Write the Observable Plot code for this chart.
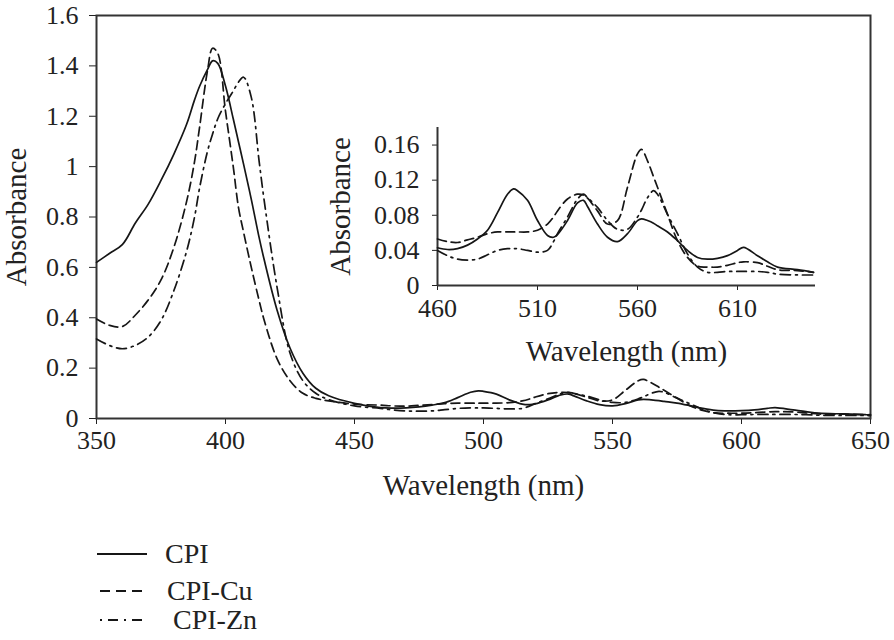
<!DOCTYPE html>
<html>
<head>
<meta charset="utf-8">
<script src="https://cdn.jsdelivr.net/npm/d3@7"></script>
<script src="https://cdn.jsdelivr.net/npm/@observablehq/plot@0.6"></script>
<style>
  html, body { margin: 0; padding: 0; background: #fff; }
  #wrap { position: relative; width: 894px; height: 640px; overflow: hidden; font-family: 'Liberation Serif', 'Times New Roman', serif; color: #222; }
  #main { position: absolute; left: 0; top: 0; }
  #inset { position: absolute; left: 310px; top: 110px; }
  .leg { position: absolute; left: 0; height: 34px; display: flex; align-items: center; font-size: 28px; }
  .leg svg { position: absolute; left: 95px; top: 0; }
  .leg span { position: absolute; white-space: nowrap; }
</style>
</head>
<body>
<div id="wrap">
  <div id="main"></div>
  <div id="inset"></div>
  <div id="legend"></div>
</div>
<script>
// ---- data ----
const wavelength = [350,355,360,365,370,375,380,385,388,390,393,395,397,400,403,405,407,410,413,415,420,425,430,435,440,450,
  460,465,470,475,480,485,490,495,498,500,505,510,515,518,520,525,530,533,535,540,545,550,555,560,562,565,568,570,575,580,585,
  590,595,600,605,610,613,620,625,630,640,648,650];
const cpi = [0.62,0.655,0.69,0.775,0.85,0.945,1.05,1.17,1.265,1.32,1.385,1.42,1.41,1.32,1.19,1.10,1.01,0.87,0.72,0.63,0.43,0.28,0.18,0.12,0.09,0.06,
  0.043,0.041,0.042,0.046,0.053,0.063,0.083,0.104,0.110,0.108,0.097,0.074,0.057,0.055,0.058,0.074,0.094,0.097,0.090,0.070,0.055,0.050,0.059,0.074,0.076,0.074,0.071,0.068,0.061,0.051,0.040,
  0.032,0.030,0.031,0.034,0.040,0.0435,0.034,0.027,0.021,0.018,0.015,0.014];
const cpiCu = [0.395,0.37,0.365,0.41,0.47,0.55,0.68,0.865,1.02,1.16,1.38,1.47,1.45,1.22,1.00,0.84,0.74,0.60,0.47,0.39,0.237,0.15,0.10,0.08,0.07,0.057,
  0.053,0.050,0.049,0.052,0.055,0.059,0.061,0.061,0.061,0.061,0.061,0.063,0.070,0.078,0.085,0.0985,0.104,0.103,0.0995,0.085,0.070,0.074,0.112,0.150,0.155,0.142,0.124,0.112,0.081,0.051,0.032,
  0.022,0.021,0.021,0.023,0.026,0.027,0.026,0.022,0.018,0.017,0.015,0.015];
const cpiZn = [0.316,0.29,0.277,0.29,0.323,0.389,0.508,0.667,0.80,0.918,1.06,1.13,1.19,1.25,1.30,1.335,1.355,1.275,1.024,0.865,0.52,0.26,0.15,0.10,0.075,0.05,
  0.040,0.034,0.030,0.029,0.030,0.035,0.040,0.042,0.042,0.042,0.040,0.038,0.040,0.050,0.059,0.078,0.0985,0.104,0.100,0.089,0.074,0.064,0.064,0.078,0.086,0.100,0.108,0.104,0.081,0.059,0.036,
  0.021,0.015,0.015,0.016,0.016,0.016,0.016,0.015,0.013,0.012,0.012,0.011];
const seriesNames = ["CPI", "CPI-Cu", "CPI-Zn"];
const mainXTicks = [350, 400, 450, 500, 550, 600, 650];
const mainYTicks = [0, 0.2, 0.4, 0.6, 0.8, 1, 1.2, 1.4, 1.6];
const insetXTicks = [460, 510, 560, 610];
const insetYTicks = [0, 0.04, 0.08, 0.12, 0.16];
const xLabel = "Wavelength (nm)";
const yLabel = "Absorbance";

// ---- build table ----
const seriesValues = [cpi, cpiCu, cpiZn];
const rows = seriesNames.flatMap((s, i) => wavelength.map((w, j) => ({series: s, w, a: seriesValues[i][j]})));
const dashes = {"CPI": null, "CPI-Cu": "9,5", "CPI-Zn": "10,5,2,5"};
const ink = "#161616";
const fmt = d => String(+d.toFixed(2));
const font = "'Liberation Serif', 'Times New Roman', serif";

function lines(data) {
  return seriesNames.map(s => Plot.line(data.filter(d => d.series === s), {
    x: "w", y: "a", stroke: ink, strokeWidth: 1.7,
    strokeDasharray: dashes[s] || undefined, curve: "catmull-rom"
  }));
}

const main = Plot.plot({
  width: 894, height: 520,
  marginLeft: 96, marginRight: 24, marginTop: 15, marginBottom: 102,
  style: {fontFamily: font, fontSize: "26px", color: "#222", background: "transparent", overflow: "visible"},
  x: {domain: [350, 650], ticks: mainXTicks, tickSize: 6, tickPadding: 6, tickFormat: d => String(d), label: null},
  y: {domain: [0, 1.6], ticks: mainYTicks, tickSize: 7, tickPadding: 11, tickFormat: fmt, label: null},
  marks: [
    Plot.frame({stroke: "#333", strokeWidth: 2}),
    ...lines(rows),
    Plot.text([xLabel], {frameAnchor: "bottom", dy: 67, fontSize: 29, fill: "#222", textAnchor: "middle", lineAnchor: "middle"}),
    Plot.text([yLabel], {frameAnchor: "left", dx: -80, rotate: -90, fontSize: 29, fill: "#222", textAnchor: "middle", lineAnchor: "middle"})
  ]
});
document.getElementById("main").append(main);

const insetRows = rows.filter(d => d.w >= 460 && d.w <= 649);
const inset = Plot.plot({
  width: 540, height: 260,
  marginLeft: 127, marginRight: 35, marginTop: 17, marginBottom: 85,
  style: {fontFamily: font, fontSize: "26px", color: "#222", background: "transparent", overflow: "visible"},
  x: {domain: [460, 649], ticks: insetXTicks, tickSize: 5, tickPadding: 8, tickFormat: d => String(d), label: null},
  y: {domain: [0, 0.18], ticks: insetYTicks, tickSize: 5, tickPadding: 13, tickFormat: fmt, label: null},
  marks: [
    Plot.ruleX([460], {stroke: "#333", strokeWidth: 2}),
    Plot.ruleY([0], {stroke: "#333", strokeWidth: 2}),
    ...lines(insetRows),
    Plot.text([xLabel], {frameAnchor: "bottom", dy: 66, fontSize: 29, fill: "#222", textAnchor: "middle", lineAnchor: "middle"}),
    Plot.text([yLabel], {frameAnchor: "left", dx: -97, rotate: -90, fontSize: 29, fill: "#222", textAnchor: "middle", lineAnchor: "middle"})
  ]
});
document.getElementById("inset").append(inset);

// ---- legend (below the chart) ----
const legendY = [554, 591, 620];
const legendTextX = [165, 167, 173];
const legend = document.getElementById("legend");
seriesNames.forEach((s, i) => {
  const row = document.createElement("div");
  row.className = "leg";
  row.style.top = (legendY[i] - 17) + "px";
  row.style.width = "400px";
  const dash = s === "CPI" ? "" : (s === "CPI-Cu" ? "10,6" : "2,6,10,6");
  const x1 = s === "CPI" ? 2 : 5;
  row.innerHTML = `<svg width="60" height="34"><line x1="${x1}" x2="52" y1="17" y2="17" stroke="${ink}" stroke-width="1.8" ${dash ? `stroke-dasharray="${dash}"` : ""}/></svg><span style="left:${legendTextX[i]}px">${s}</span>`;
  legend.append(row);
});
</script>
</body>
</html>
